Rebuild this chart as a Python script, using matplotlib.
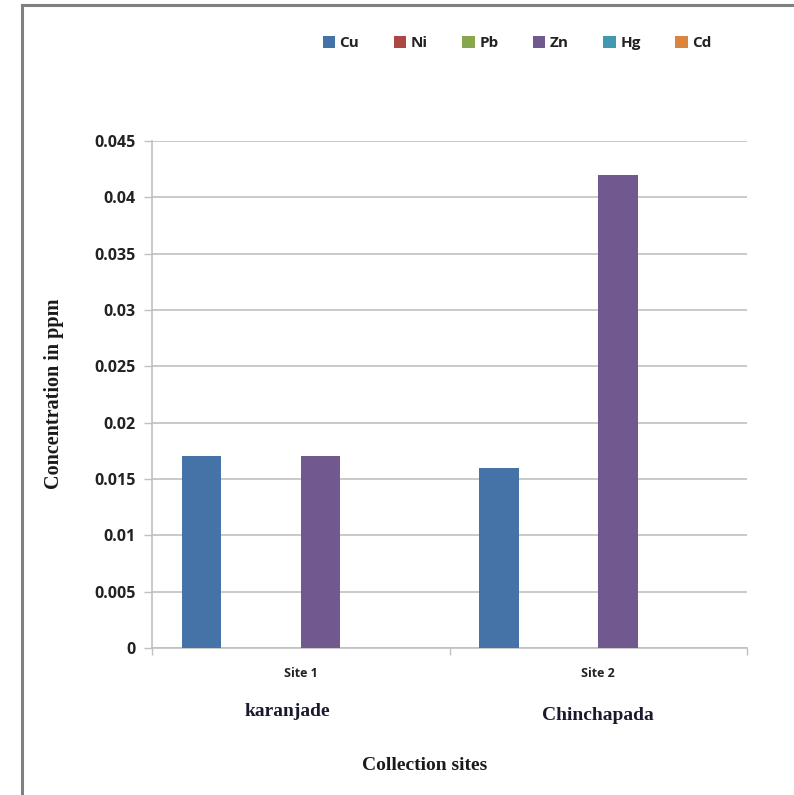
import matplotlib
matplotlib.use("Agg")
import matplotlib.pyplot as plt
import numpy as np
from matplotlib.lines import Line2D
from matplotlib.patches import Patch

# Heavy metal concentrations (ppm) per collection site
sites = ["Site 1", "Site 2"]
site_names = ["karanjade", "Chinchapada"]
metals = ["Cu", "Ni", "Pb", "Zn", "Hg", "Cd"]
cu = [0.017, 0.016]
ni = [0.0, 0.0]
pb = [0.0, 0.0]
zn = [0.017, 0.042]
hg = [0.0, 0.0]
cd = [0.0, 0.0]
series = [cu, ni, pb, zn, hg, cd]
colors = ["#4572A7", "#AA4643", "#89A54E", "#71588F", "#4198AF", "#DB843D"]
yticks = [0, 0.005, 0.01, 0.015, 0.02, 0.025, 0.03, 0.035, 0.04, 0.045]
ytick_labels = ["0", "0.005", "0.01", "0.015", "0.02", "0.025", "0.03", "0.035", "0.04", "0.045"]

W, H = 794, 795
fig = plt.figure(figsize=(W / 100, H / 100), dpi=100)
fig.patch.set_facecolor("white")

ax = fig.add_axes([152 / W, 1 - 648 / H, (747 - 152) / W, (648 - 141) / H])

x = np.arange(len(sites))
n = len(series)
slot = 0.8 / n
for i, (vals, c) in enumerate(zip(series, colors)):
    offs = -0.4 + (i + 0.5) * slot
    ax.bar(x + offs, vals, width=slot, color=c, edgecolor="none", zorder=3)

ax.set_xlim(-0.5, 1.5)
ax.set_ylim(0, 0.045)

grid_c = "#c0c0c0"
ax.set_yticks(yticks)
ax.set_yticklabels(ytick_labels, fontfamily="Open Sans", fontweight="bold",
                   fontsize=11.5, color="#222222")
ax.yaxis.grid(True, color=grid_c, linewidth=1.2, zorder=0)
ax.tick_params(axis="y", length=6, width=1.0, color=grid_c, pad=6)

ax.set_xticks([-0.5, 0.5, 1.5])
ax.set_xticklabels([])
ax.set_xticks(x, minor=True)
ax.set_xticklabels(sites, minor=True, fontfamily="Open Sans", fontweight="bold",
                   fontsize=9, color="#222222")
ax.tick_params(axis="x", which="major", length=5, width=1.0, color=grid_c, direction="out")
ax.tick_params(axis="x", which="minor", length=0, pad=14)

for side in ["top", "right"]:
    ax.spines[side].set_visible(False)
for side in ["left", "bottom"]:
    ax.spines[side].set_color(grid_c)
    ax.spines[side].set_linewidth(1.2)

# Site names below the category labels
serif = "Liberation Serif"
fig.text(287 / W, 1 - 711 / H, site_names[0], ha="center", va="center",
         fontfamily=serif, fontweight="bold", fontsize=14, color="#1a1a2e")
fig.text(598 / W, 1 - 715 / H, site_names[1], ha="center", va="center",
         fontfamily=serif, fontweight="bold", fontsize=14, color="#1a1a2e")
fig.text(425 / W, 1 - 765 / H, "Collection sites", ha="center", va="center",
         fontfamily=serif, fontweight="bold", fontsize=14, color="#1a1a1a")
fig.text(54 / W, 1 - 394 / H, "Concentration in ppm", ha="center", va="center",
         rotation=90, fontfamily=serif, fontweight="bold", fontsize=14.5, color="#1a1a1a")

# Legend across the top
handles = [Patch(facecolor=c, edgecolor="none") for c in colors]
leg = fig.legend(handles, metals, loc="center", bbox_to_anchor=(517 / W, 1 - 43 / H),
                 ncol=6, frameon=False, handlelength=0.8, handleheight=0.8,
                 handletextpad=0.3, columnspacing=2.27,
                 prop={"family": "Open Sans", "weight": "bold", "size": 11})
for t in leg.get_texts():
    t.set_color("#222222")

# Page frame on the left and top edges
fig.add_artist(Line2D([22 / W, 22 / W], [0, 1 - 5 / H], transform=fig.transFigure,
                      color="#808080", linewidth=2.2))
fig.add_artist(Line2D([22 / W, 1], [1 - 5 / H, 1 - 5 / H], transform=fig.transFigure,
                      color="#808080", linewidth=2.2))

fig.savefig("out.png", dpi=100, facecolor="white")
